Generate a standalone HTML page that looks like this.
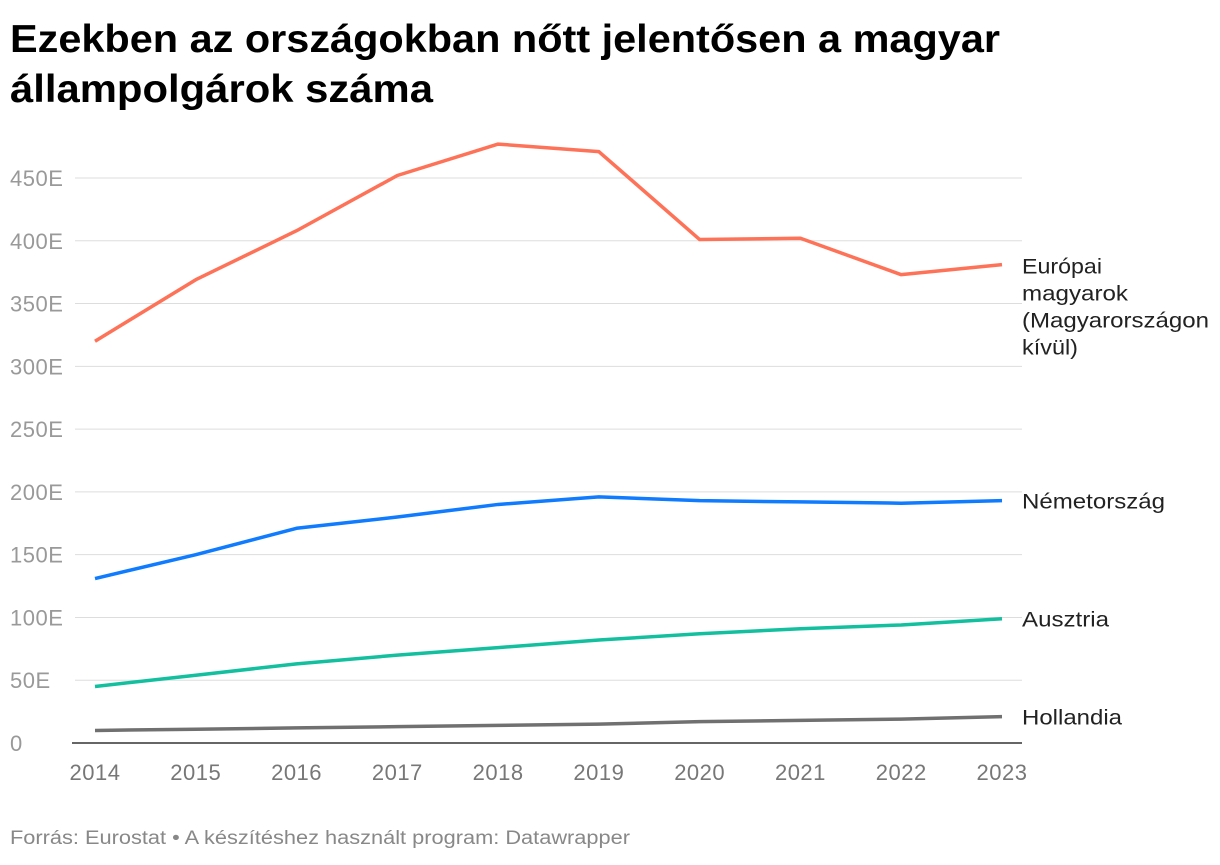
<!DOCTYPE html>
<html><head><meta charset="utf-8">
<style>
body{margin:0;background:#fff;font-family:"Liberation Sans",sans-serif;}
svg text{font-family:"Liberation Sans",sans-serif;}
</style></head>
<body>
<svg width="1220" height="860" viewBox="0 0 1220 860">
<text x="10" y="52" font-size="39" font-weight="bold" fill="#000" textLength="990" lengthAdjust="spacingAndGlyphs">Ezekben az országokban nőtt jelentősen a magyar</text>
<text x="10" y="102" font-size="39" font-weight="bold" fill="#000" textLength="423" lengthAdjust="spacingAndGlyphs">állampolgárok száma</text>
<g id="grid"></g>
<g id="series"></g>
<text x="10" y="844" font-size="19" fill="#888" textLength="620" lengthAdjust="spacingAndGlyphs">Forrás: Eurostat • A készítéshez használt program: Datawrapper</text>
</svg>
<script>
const years = [2014,2015,2016,2017,2018,2019,2020,2021,2022,2023];
const yTicks = [0,50,100,150,200,250,300,350,400,450];
const europe = [320,369,408,452,477,471,401,402,373,381];
const germany = [131,150,171,180,190,196,193,192,191,193];
const austria = [45,54,63,70,76,82,87,91,94,99];
const holland = [10,11,12,13,14,15,17,18,19,21];
const seriesNames = ["europe","germany","austria","holland"];
const seriesData = [europe,germany,austria,holland];
const seriesColors = ["#fe7258","#0f7bff","#12bf9e","#707070"];
const seriesLabels = [["Európai","magyarok","(Magyarországon","kívül)"],["Németország"],["Ausztria"],["Hollandia"]];
const labelWidths = [[80,106,187,56],[143],[87],[100]];
const NS="http://www.w3.org/2000/svg";
function xs(i){return 95+(1002-95)*i/(years.length-1);}
function ys(v){return 743-v*(743-178)/450;}
const grid=document.getElementById('grid');
yTicks.forEach(t=>{
  const l=document.createElementNS(NS,'line');
  
  
  l.setAttribute('x1',t===0?72:75);l.setAttribute('x2',1022);
  l.setAttribute('y1',ys(t));l.setAttribute('y2',ys(t));
  l.setAttribute('stroke',t===0?'#333':'#ddd');l.setAttribute('stroke-width',t===0?1.5:1);
  grid.appendChild(l);
  const tx=document.createElementNS(NS,'text');
  
  
  tx.setAttribute('x',10);tx.setAttribute('y',ys(t)+8);
  tx.setAttribute('font-size','22');tx.setAttribute('fill','#999');
  tx.setAttribute('letter-spacing','0.5');
  tx.textContent=t===0?'0':t+'E';
  grid.appendChild(tx);
});
years.forEach((yr,i)=>{
  const tx=document.createElementNS(NS,'text');
  
  
  tx.setAttribute('x',xs(i));tx.setAttribute('y',780);
  tx.setAttribute('text-anchor','middle');
  tx.setAttribute('font-size','22');tx.setAttribute('fill','#777');
  tx.setAttribute('letter-spacing','0.5');
  tx.textContent=yr;
  grid.appendChild(tx);
});
const sg=document.getElementById('series');
seriesData.forEach((d,k)=>{
  const p=document.createElementNS(NS,'polyline');
  
  
  p.setAttribute('points',d.map((v,i)=>xs(i)+','+ys(v)).join(' '));
  p.setAttribute('fill','none');p.setAttribute('stroke',seriesColors[k]);
  p.setAttribute('stroke-width','3.5');p.setAttribute('stroke-linejoin','round');
  sg.appendChild(p);
  const lines=seriesLabels[k];
  const y0=ys(d[d.length-1])+8+(lines.length>1?1:0);
  lines.forEach((s,j)=>{
    const t=document.createElementNS(NS,'text');
    
    
    t.setAttribute('x',1022);t.setAttribute('y',y0+j*27);
    t.setAttribute('font-size','21');t.setAttribute('fill','#222');
    t.setAttribute('textLength',labelWidths[k][j]);
    t.setAttribute('lengthAdjust','spacingAndGlyphs');
    t.textContent=s;
    sg.appendChild(t);
  });
});
</script>
</body></html>
